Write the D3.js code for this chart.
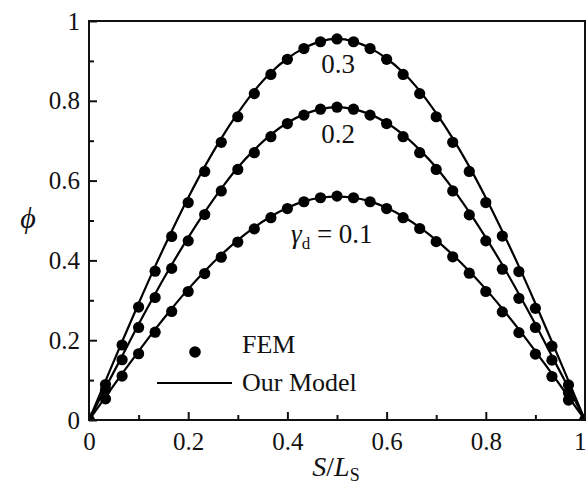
<!DOCTYPE html>
<html>
<head>
<meta charset="utf-8">
<script src="https://cdn.jsdelivr.net/npm/d3@7/dist/d3.min.js"></script>
<style>
  html, body { margin: 0; padding: 0; background: #fff; }
  svg { display: block; }
  text { font-family: "Liberation Serif", "Times New Roman", "DejaVu Serif", serif; fill: #111; }
</style>
</head>
<body>
<svg id="chart" width="586" height="487"></svg>
<script>
// ---- data ----
const sValues = [0, 0.0333, 0.0667, 0.1, 0.1333, 0.1667, 0.2, 0.2333, 0.2667, 0.3, 0.3333,
  0.3667, 0.4, 0.4333, 0.4667, 0.5, 0.5333, 0.5667, 0.6, 0.6333, 0.6667,
  0.7, 0.7333, 0.7667, 0.8, 0.8333, 0.8667, 0.9, 0.9333, 0.9667, 1];

const fem01 = [0, 0.053, 0.110, 0.166, 0.220, 0.272, 0.322, 0.367, 0.408, 0.446, 0.479,
  0.507, 0.530, 0.547, 0.557, 0.561, 0.557, 0.547, 0.530, 0.507, 0.480,
  0.447, 0.409, 0.368, 0.322, 0.271, 0.219, 0.165, 0.109, 0.050, 0];
const fem02 = [0, 0.076, 0.151, 0.232, 0.307, 0.380, 0.449, 0.515, 0.574, 0.628, 0.670,
  0.710, 0.743, 0.764, 0.779, 0.784, 0.779, 0.764, 0.743, 0.710, 0.670,
  0.628, 0.574, 0.514, 0.449, 0.378, 0.305, 0.232, 0.150, 0.068, 0];
const fem03 = [0, 0.089, 0.188, 0.283, 0.373, 0.460, 0.545, 0.623, 0.696, 0.760, 0.818,
  0.866, 0.904, 0.931, 0.948, 0.955, 0.948, 0.931, 0.904, 0.866, 0.818,
  0.760, 0.696, 0.623, 0.545, 0.461, 0.372, 0.280, 0.185, 0.088, 0];

const model01 = [0, 0.058, 0.116, 0.172, 0.227, 0.279, 0.328, 0.373, 0.414, 0.451, 0.483,
  0.510, 0.532, 0.548, 0.557, 0.560, 0.557, 0.548, 0.532, 0.510, 0.483,
  0.451, 0.414, 0.373, 0.328, 0.279, 0.227, 0.172, 0.116, 0.058, 0];
const model02 = [0, 0.081, 0.160, 0.240, 0.316, 0.389, 0.457, 0.521, 0.580, 0.633, 0.677,
  0.715, 0.745, 0.766, 0.779, 0.784, 0.779, 0.766, 0.745, 0.715, 0.677,
  0.633, 0.580, 0.521, 0.457, 0.389, 0.316, 0.240, 0.160, 0.081, 0];
const model03 = [0, 0.098, 0.196, 0.292, 0.385, 0.473, 0.557, 0.635, 0.706, 0.769, 0.825,
  0.871, 0.906, 0.932, 0.949, 0.955, 0.949, 0.932, 0.906, 0.871, 0.825,
  0.769, 0.706, 0.635, 0.557, 0.473, 0.385, 0.292, 0.196, 0.098, 0];

const majorTicks = [0, 0.2, 0.4, 0.6, 0.8, 1];
const minorTicks = [0.1, 0.3, 0.5, 0.7, 0.9];
const curveLabels = ["0.3", "0.2"];

// ---- drawing ----
const svg = d3.select("#chart");
const x = d3.scaleLinear().domain([0, 1]).range([89, 585]);
const y = d3.scaleLinear().domain([0, 1]).range([420, 21]);
const fmt = d => String(+d.toFixed(1));

svg.append("defs").append("clipPath").attr("id", "plotclip")
  .append("rect").attr("x", x(0)).attr("y", y(1)).attr("width", x(1) - x(0)).attr("height", y(0) - y(1));

// axes
const gx = svg.append("g").attr("transform", `translate(0,${y(0)})`)
  .call(d3.axisBottom(x).tickValues(majorTicks).tickSize(-8).tickPadding(12).tickFormat(fmt));
const gxm = svg.append("g").attr("transform", `translate(0,${y(0)})`)
  .call(d3.axisBottom(x).tickValues(minorTicks).tickSize(-5).tickFormat(""));
const gy = svg.append("g").attr("transform", `translate(${x(0)},0)`)
  .call(d3.axisLeft(y).tickValues(majorTicks).tickSize(-8).tickPadding(9).tickFormat(fmt));
const gym = svg.append("g").attr("transform", `translate(${x(0)},0)`)
  .call(d3.axisLeft(y).tickValues(minorTicks).tickSize(-5).tickFormat(""));
[gx, gxm, gy, gym].forEach(g => {
  g.select(".domain").remove();
  g.selectAll(".tick line").attr("stroke", "#111").attr("stroke-width", 2);
  g.selectAll(".tick text").attr("font-size", 25).attr("fill", "#111");
});
// keep the last x label inside the picture
gx.selectAll(".tick text").filter(d => d === 1).attr("text-anchor", "end").attr("dx", 1);

// model lines
const series = [
  { fem: fem01, model: model01 },
  { fem: fem02, model: model02 },
  { fem: fem03, model: model03 }
];
const line = d3.line().x((d, i) => x(sValues[i])).y(d => y(d)).curve(d3.curveCatmullRom);
const plot = svg.append("g").attr("clip-path", "url(#plotclip)");
series.forEach(s => {
  plot.append("path").datum(s.model).attr("d", line)
    .attr("fill", "none").attr("stroke", "#000").attr("stroke-width", 2.2);
});
series.forEach(s => {
  plot.selectAll(null).data(s.fem).enter().append("circle")
    .attr("cx", (d, i) => x(sValues[i])).attr("cy", d => y(d)).attr("r", 5.6)
    .attr("fill", "#000");
});

// frame
svg.append("rect").attr("x", x(0)).attr("y", y(1)).attr("width", x(1) - x(0)).attr("height", y(0) - y(1))
  .attr("fill", "none").attr("stroke", "#111").attr("stroke-width", 2);

// curve labels
svg.append("text").attr("x", 338).attr("y", 73).attr("text-anchor", "middle").attr("font-size", 27).text(curveLabels[0]);
svg.append("text").attr("x", 338).attr("y", 143).attr("text-anchor", "middle").attr("font-size", 27).text(curveLabels[1]);
const g1 = svg.append("text").attr("x", 291).attr("y", 243).attr("font-size", 27);
g1.append("tspan").attr("font-style", "italic").text("γ");
g1.append("tspan").attr("font-size", 17).attr("dy", 6).text("d");
g1.append("tspan").attr("dy", -6).text(" = 0.1");

// legend
svg.append("circle").attr("cx", 195).attr("cy", 352).attr("r", 5.8).attr("fill", "#000");
svg.append("text").attr("x", 242).attr("y", 353).attr("font-size", 26).text("FEM");
svg.append("line").attr("x1", 157).attr("x2", 232).attr("y1", 383).attr("y2", 383)
  .attr("stroke", "#000").attr("stroke-width", 2);
svg.append("text").attr("x", 242).attr("y", 391).attr("font-size", 26).text("Our Model");

// axis titles
svg.append("text").attr("x", 28).attr("y", 228).attr("text-anchor", "middle")
  .attr("font-size", 30).attr("font-style", "italic").text("ϕ");
const xt = svg.append("text").attr("x", 336).attr("y", 476).attr("text-anchor", "middle").attr("font-size", 28);
xt.append("tspan").attr("font-style", "italic").text("S");
xt.append("tspan").text("/");
xt.append("tspan").attr("font-style", "italic").text("L");
xt.append("tspan").attr("font-size", 18).attr("dy", 5).text("S");
</script>
</body>
</html>
